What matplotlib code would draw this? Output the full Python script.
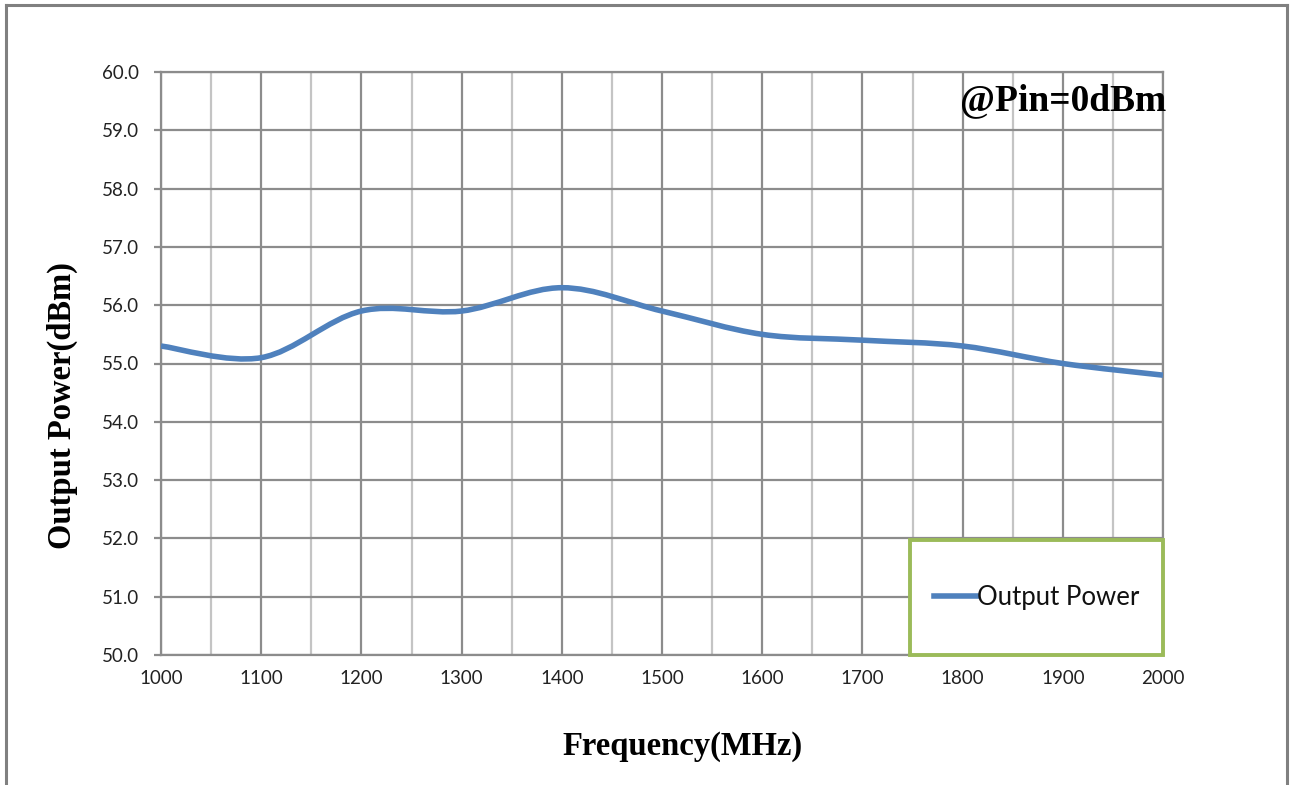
import matplotlib.pyplot as plt
from matplotlib.path import Path
from matplotlib.patches import PathPatch, Rectangle
from matplotlib.lines import Line2D

# Data
freq = [1000, 1100, 1200, 1300, 1400, 1500, 1600, 1700, 1800, 1900, 2000]
power = [55.3, 55.1, 55.9, 55.9, 56.3, 55.9, 55.5, 55.4, 55.3, 55.0, 54.8]
y_ticks = [50.0, 51.0, 52.0, 53.0, 54.0, 55.0, 56.0, 57.0, 58.0, 59.0, 60.0]
x_ticks = [1000, 1100, 1200, 1300, 1400, 1500, 1600, 1700, 1800, 1900, 2000]
series_name = "Output Power"
note = "@Pin=0dBm"

blue = "#4F81BD"

fig = plt.figure(figsize=(12.9, 7.85), dpi=100)
ax = fig.add_axes([161 / 1290, 1 - 655 / 785, (1163 - 161) / 1290, (655 - 72) / 785])

# outer chart border like the Excel chart area
for xs, ys in [([6 / 1290, 6 / 1290], [0, 1 - 5 / 785]),
               ([6 / 1290, 1287 / 1290], [1 - 5 / 785, 1 - 5 / 785]),
               ([1287 / 1290, 1287 / 1290], [0, 1 - 5 / 785])]:
    fig.add_artist(Line2D(xs, ys, color="#808080", lw=2.2))

# Excel-style smoothed line (cubic Bezier segments through the points)
n = len(freq)
verts = [(freq[0], power[0])]
codes = [Path.MOVETO]
for i in range(n - 1):
    p0 = (freq[max(i - 1, 0)], power[max(i - 1, 0)])
    p1 = (freq[i], power[i])
    p2 = (freq[i + 1], power[i + 1])
    p3 = (freq[min(i + 2, n - 1)], power[min(i + 2, n - 1)])
    c1 = (p1[0] + (p2[0] - p0[0]) / 6, p1[1] + (p2[1] - p0[1]) / 6)
    c2 = (p2[0] - (p3[0] - p1[0]) / 6, p2[1] - (p3[1] - p1[1]) / 6)
    verts += [c1, c2, p2]
    codes += [Path.CURVE4] * 3
ax.add_patch(PathPatch(Path(verts, codes), fill=False, edgecolor=blue, lw=4,
                       capstyle="butt", zorder=3))
# invisible handle for the legend
ax.plot([], [], color=blue, lw=4, label=series_name)

ax.set_xlim(1000, 2000)
ax.set_ylim(50, 60)
ax.set_xticks(x_ticks)
ax.set_yticks(y_ticks)
ax.set_yticklabels([f"{v:.1f}" for v in y_ticks])
ax.set_xticks(range(1050, 2000, 100), minor=True)

ax.grid(True, which="major", color="#8c8c8c", lw=1.6)
ax.grid(True, which="minor", axis="x", color="#c4c4c4", lw=1.6)
ax.set_axisbelow(True)
for s in ax.spines.values():
    s.set_color("#8c8c8c")
    s.set_linewidth(1.6)

ax.tick_params(axis="y", which="major", length=5, width=1.6, color="#8c8c8c",
               labelsize=13.5, pad=11)
ax.tick_params(axis="x", which="both", length=0, labelsize=13.5, pad=11)
for lab in ax.get_xticklabels() + ax.get_yticklabels():
    lab.set_fontfamily("Lato")
    lab.set_color("#222222")

fig.text(683 / 1290, 1 - 746 / 785, "Frequency(MHz)", family="Liberation Serif",
         fontweight="bold", fontsize=23.5, ha="center", va="center")
fig.text(62 / 1290, 1 - 406 / 785, "Output Power(dBm)", family="Liberation Serif",
         fontweight="bold", fontsize=23.5, ha="center", va="center", rotation=90)
fig.text(1166 / 1290, 1 - 101 / 785, note, family="Liberation Serif",
         fontweight="bold", fontsize=27, ha="right", va="center")

# legend box (green frame) and legend centred inside it
box_x0 = (910 - 161) / 1002
box_h = (655 - 540) / 583
ax.add_patch(Rectangle((box_x0, 0), 1 - box_x0, box_h, transform=ax.transAxes,
                       facecolor="white", edgecolor="#9BBB59", lw=2.8, zorder=4,
                       clip_on=False))
leg = ax.legend(loc="center", bbox_to_anchor=(box_x0, 0, 1 - box_x0, box_h),
                frameon=False, prop={"family": "Lato", "size": 18.5},
                handlelength=1.65, handletextpad=0.0, borderpad=0)
leg.set_zorder(5)
for t in leg.get_texts():
    t.set_color("#111111")

fig.savefig("out.png", dpi=100)
